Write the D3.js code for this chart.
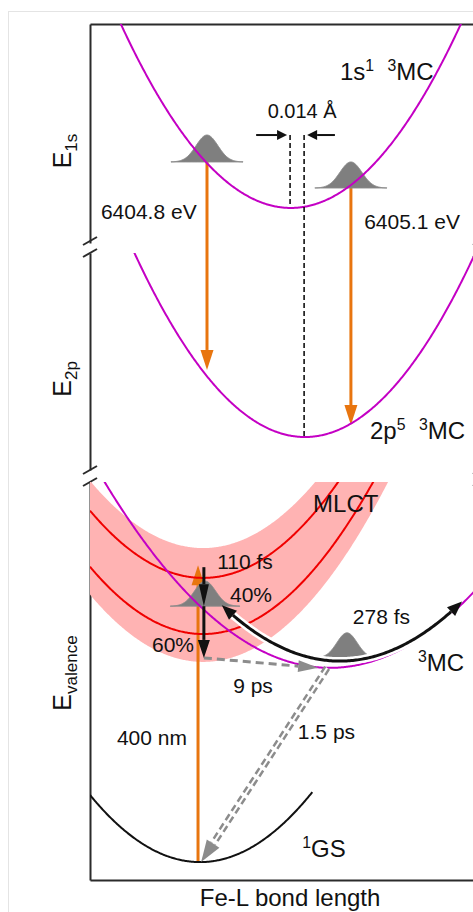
<!DOCTYPE html>
<html>
<head>
<meta charset="utf-8">
<script src="https://cdn.jsdelivr.net/npm/d3@7"></script>
<style>
  body { margin: 0; background: #fff; }
  text { font-family: "Liberation Sans", Arial, sans-serif; fill: #111; white-space: pre; }
</style>
</head>
<body>
<div id="chart"></div>
<script>
// ---- data (arbitrary units: bond length 0-100, energy 0-100 per panel) ----
// potential curves E = E0 + k * (x - x0)^2
var curveNames = ["1s 3MC", "2p 3MC", "MLCT upper", "MLCT lower", "3MC", "1GS"];
var curvePanel = ["1s", "2p", "val", "val", "val", "val"];
var curveX0    = [51.5, 55.1, 29.0, 29.0, 61.5, 28.2];
var curveE0    = [16.0, 15.2, 75.9, 61.8, 53.3, 4.5];
var curveK     = [0.0442, 0.0444, 0.0201, 0.0201, 0.0140, 0.0212];
var curveFrom  = [0, 0, 0, 0, 0, 0];
var curveTo    = [100, 100, 100, 100, 100, 57.2];

// MLCT band edges (same shape as MLCT curves)
var bandE0 = [54.8, 83.4];

// wavepackets
var packetPanel = ["1s", "1s", "val", "val"];
var packetX     = [30.0, 66.9, 29.5, 65.9];
var packetE     = [37.0, 25.1, 68.8, 55.8];
var packetH     = [12.3, 11.9, 6.3, 6.3];
var packetSigma = [2.8, 2.8, 2.7, 2.6];

// vertical transitions (orange): x, from [panel, E], to [panel, E]
var transX     = [30.0, 66.9, 27.7];
var transFrom  = [["1s", 37.0], ["1s", 25.1], ["val", 4.5]];
var transTo    = [["2p", 46.1], ["2p", 20.7], ["val", 79.1]];

// 0.014 A shift markers
var shiftX    = [51.3, 54.9];
var shiftTop  = 49.3;
var shiftEnd  = [["1s", 17.4], ["2p", 15.2]];

// relaxation pathways in valence panel
var mlctDecayX = 29.2;
var mlctDecayE = [78.6, 68.8, 55.8];
var mcPath     = { x0: 64.1, E0: 55.0, k: 0.0153, from: 33.8, to: 95.6 };
var path9ps    = [[29.2, 55.8], [58.5, 53.3]];
var path15ps   = [[60.8, 53.3], [28.5, 4.5]];

// labels: text (^{} superscript), panel, x, E
var labelText  = ["1s^{1}  ^{3}MC", "0.014 Å", "6404.8 eV", "6405.1 eV", "2p^{5}  ^{3}MC",
                  "MLCT", "110 fs", "40%", "60%", "278 fs", "^{3}MC", "9 ps", "1.5 ps", "400 nm", "^{1}GS"];
var labelPanel = ["1s", "1s", "1s", "1s", "2p", "val", "val", "val", "val", "val", "val", "val", "val", "val", "val"];
var labelX     = [64.1, 54.4, 2.8, 70.3, 71.8, 57.2, 32.6, 35.9, 15.9, 67.4, 84.1, 36.7, 53.3, 6.9, 54.4];
var labelE     = [74.4, 57.1, 11.0, 6.4, 14.3, 92.5, 78.1, 69.8, 57.3, 64.3, 52.5, 47.0, 35.4, 33.9, 5.8];
var bigLabels  = ["1s^{1}  ^{3}MC", "2p^{5}  ^{3}MC", "MLCT", "^{3}MC", "^{1}GS"];

var panelNames  = ["1s", "2p", "val"];
var panelTitles = ["E_{1s}", "E_{2p}", "E_{valence}"];
var xTitle = "Fe-L bond length";

// ---- layout ----
var W = 473, H = 912;
var svg = d3.select("#chart").append("svg").attr("width", W).attr("height", H);

svg.append("rect").attr("x", 8.5).attr("y", 11.5).attr("width", 600).attr("height", 1000)
  .attr("fill", "none").attr("stroke", "#e4e4e4");

var x = d3.scaleLinear().domain([0, 100]).range([90, 480]);
var y = {
  "1s": d3.scaleLinear().domain([0, 100]).range([243, 24]),
  "2p": d3.scaleLinear().domain([0, 100]).range([470, 253]),
  "val": d3.scaleLinear().domain([0, 100]).range([880, 482])
};

var defs = svg.append("defs");
panelNames.forEach(function(p) {
  var r = y[p].range();
  defs.append("clipPath").attr("id", "clip-" + p).append("rect")
    .attr("x", x(0)).attr("y", r[1]).attr("width", x(100) - x(0)).attr("height", r[0] - r[1]);
});

function parab(x0, E0, k) { return function(v) { return E0 + k * (v - x0) * (v - x0); }; }

// helpers for arrows (pixel points, last point is the tip)
function trimEnd(pts, len) {
  var tip = pts[pts.length - 1];
  var kept = pts.slice(0, -1).filter(function(p) {
    return Math.hypot(p[0] - tip[0], p[1] - tip[1]) >= len;
  });
  var ref = kept.length ? kept[kept.length - 1] : pts[0];
  var dx = tip[0] - ref[0], dy = tip[1] - ref[1], L = Math.hypot(dx, dy);
  var ux = dx / L, uy = dy / L;
  var base = [tip[0] - ux * len, tip[1] - uy * len];
  kept.push(base);
  return { pts: kept, tip: tip, base: base, ux: ux, uy: uy };
}
function head(g, h, w, color) {
  var px = -h.uy * w / 2, py = h.ux * w / 2;
  g.append("path")
    .attr("d", "M" + h.tip + "L" + [h.base[0] + px, h.base[1] + py] + "L" + [h.base[0] - px, h.base[1] - py] + "Z")
    .attr("fill", color);
}
var pxLine = d3.line();
function arrow(g, pts, o) {
  var t = trimEnd(pts, o.len);
  var line = t.pts;
  var h2 = null;
  if (o.both) {
    h2 = trimEnd(line.slice().reverse(), o.len);
    line = h2.pts.reverse();
  }
  if (o.halo) g.append("path").attr("d", pxLine(line)).attr("fill", "none")
    .attr("stroke", "#fff").attr("stroke-width", o.halo);
  g.append("path").attr("d", pxLine(line)).attr("fill", "none")
    .attr("stroke", o.color).attr("stroke-width", o.width)
    .attr("stroke-dasharray", o.dash || null);
  if (o.inner) g.append("path").attr("d", pxLine(line)).attr("fill", "none")
    .attr("stroke", "#fff").attr("stroke-width", o.inner);
  head(g, t, o.hw, o.color);
  if (h2) head(g, h2, o.hw, o.color);
}

// ---- axes (no ticks) ----
var axisG = svg.append("g");
panelNames.forEach(function(p) {
  axisG.append("g").attr("transform", "translate(" + x(0) + ",0)")
    .call(d3.axisLeft(y[p]).ticks(0).tickSizeOuter(0));
});
axisG.append("g").attr("transform", "translate(0," + y["1s"](100) + ")")
  .call(d3.axisTop(x).ticks(0).tickSizeOuter(0));
axisG.append("g").attr("transform", "translate(0," + y["val"](0) + ")")
  .call(d3.axisBottom(x).ticks(0).tickSizeOuter(0));
axisG.selectAll(".domain").attr("stroke", "#2b2b2b").attr("stroke-width", 2);

// axis breaks
var breakYs = [y["1s"](0) - 2, y["2p"](100), y["2p"](0), y["val"](100)];
[0, 100].forEach(function(bx) {
  breakYs.forEach(function(by) {
    axisG.append("line")
      .attr("x1", x(bx) - 7).attr("y1", by + 4)
      .attr("x2", x(bx) + 7).attr("y2", by - 4)
      .attr("stroke", "#2b2b2b").attr("stroke-width", 2);
  });
});

// ---- MLCT band ----
var valG = svg.append("g").attr("clip-path", "url(#clip-val)");
var lowEdge = parab(curveX0[2], bandE0[0], curveK[2]);
var highEdge = parab(curveX0[2], bandE0[1], curveK[2]);
valG.append("path")
  .datum(d3.range(0, 100.01, 0.25))
  .attr("d", d3.area().x(function(d) { return x(d); })
    .y0(function(d) { return y["val"](Math.min(lowEdge(d), 110)); })
    .y1(function(d) { return y["val"](Math.min(highEdge(d), 110)); }))
  .attr("fill", "#ffb3b3");

// ---- orange transitions (under wavepackets) ----
var transG = svg.append("g");
transX.forEach(function(tx, i) {
  var p0 = [x(tx), y[transFrom[i][0]](transFrom[i][1])];
  var p1 = [x(tx), y[transTo[i][0]](transTo[i][1])];
  arrow(transG, [p0, p1], { color: "#e8750f", width: 3, len: 20, hw: 13 });
});

// ---- wavepackets ----
packetX.forEach(function(cx, i) {
  var ys = y[packetPanel[i]], s = packetSigma[i];
  var pts = d3.range(cx - 3.3 * s, cx + 3.3 * s + 0.01, s / 20);
  svg.append("path").datum(pts)
    .attr("d", d3.area().x(function(d) { return x(d); })
      .y0(ys(packetE[i]))
      .y1(function(d) { return ys(packetE[i] + packetH[i] * Math.exp(-(d - cx) * (d - cx) / (2 * s * s))); }))
    .attr("fill", "#7f7f7f").attr("stroke", "#8a8a8a").attr("stroke-width", 1);
});

// ---- potential curves ----
var curveColor = { "1s 3MC": "#c400c4", "2p 3MC": "#c400c4", "MLCT upper": "#f00000",
                   "MLCT lower": "#f00000", "3MC": "#c400c4", "1GS": "#111" };
curveNames.forEach(function(name, i) {
  var f = parab(curveX0[i], curveE0[i], curveK[i]);
  var ys = y[curvePanel[i]];
  svg.append("g").attr("clip-path", "url(#clip-" + curvePanel[i] + ")")
    .append("path")
    .datum(d3.range(curveFrom[i], curveTo[i] + 0.001, 0.25))
    .attr("d", d3.line().x(function(d) { return x(d); }).y(function(d) { return ys(Math.min(f(d), 120)); }))
    .attr("fill", "none").attr("stroke", curveColor[name]).attr("stroke-width", 2);
});

// ---- 0.014 A shift ----
var shiftG = svg.append("g");
shiftX.forEach(function(sx, i) {
  shiftG.append("line")
    .attr("x1", x(sx)).attr("x2", x(sx))
    .attr("y1", y["1s"](shiftTop)).attr("y2", y[shiftEnd[i][0]](shiftEnd[i][1]))
    .attr("stroke", "#111").attr("stroke-width", 1.6).attr("stroke-dasharray", "5,3");
});
arrow(shiftG, [[x(42.6), y["1s"](shiftTop)], [x(shiftX[0]) - 3, y["1s"](shiftTop)]], { color: "#111", width: 2, len: 10, hw: 10 });
arrow(shiftG, [[x(62.8), y["1s"](shiftTop)], [x(shiftX[1]) + 3, y["1s"](shiftTop)]], { color: "#111", width: 2, len: 10, hw: 10 });

// ---- valence relaxation pathways ----
var relG = svg.append("g");
// 3MC -> GS (1.5 ps), double dashed
arrow(relG, path15ps.map(function(d) { return [x(d[0]), y["val"](d[1])]; }),
  { color: "#8c8c8c", width: 7, dash: "7,4", inner: 2, len: 22, hw: 15 });
// MLCT -> 3MC (9 ps)
arrow(relG, path9ps.map(function(d) { return [x(d[0]), y["val"](d[1])]; }),
  { color: "#8c8c8c", width: 3, dash: "8,5", len: 20, hw: 12 });
// MLCT vertical decay
arrow(relG, [[x(mlctDecayX), y["val"](mlctDecayE[0])], [x(mlctDecayX), y["val"](mlctDecayE[1])]],
  { color: "#111", width: 3, len: 22, hw: 10 });
arrow(relG, [[x(mlctDecayX), y["val"](mlctDecayE[1])], [x(mlctDecayX), y["val"](mlctDecayE[2])]],
  { color: "#111", width: 3, len: 18, hw: 12 });
// 278 fs breathing oscillation on 3MC
var fmc = parab(mcPath.x0, mcPath.E0, mcPath.k);
arrow(relG, d3.range(mcPath.from, mcPath.to + 0.001, 0.4).map(function(d) { return [x(d), y["val"](fmc(d))]; }),
  { color: "#111", width: 3, halo: 8, len: 15, hw: 12, both: true });

// ---- labels ----
function rich(sel, str, size) {
  var parts = str.match(/\^\{[^}]*\}|_\{[^}]*\}|[^^_]+/g);
  var shift = 0;
  parts.forEach(function(p) {
    var t = sel.append("tspan");
    var target = 0, fs = size;
    if (p[0] === "^") { target = -0.38 * size; fs = size * 0.66; p = p.slice(2, -1); }
    else if (p[0] === "_") { target = 0.22 * size; fs = size * 0.68; p = p.slice(2, -1); }
    t.attr("dy", target - shift).attr("font-size", fs).text(p);
    shift = target;
  });
}
var labG = svg.append("g");
labelText.forEach(function(txt, i) {
  var size = bigLabels.indexOf(txt) >= 0 ? 24 : (txt === "0.014 Å" ? 20 : 21);
  var t = labG.append("text")
    .attr("x", x(labelX[i])).attr("y", y[labelPanel[i]](labelE[i]))
    .attr("text-anchor", txt === "0.014 Å" ? "middle" : "start")
    .attr("font-size", size);
  rich(t, txt, size);
});

// axis titles
var titleE = [42, 42, 52];
panelNames.forEach(function(p, i) {
  var t = labG.append("text")
    .attr("transform", "translate(71," + y[p](titleE[i]) + ") rotate(-90)")
    .attr("text-anchor", "middle").attr("font-size", 25);
  rich(t, panelTitles[i], 25);
});
labG.append("text")
  .attr("x", x(51.3)).attr("y", y["val"](0) + 26)
  .attr("text-anchor", "middle").attr("font-size", 24)
  .text(xTitle);
</script>
</body>
</html>
